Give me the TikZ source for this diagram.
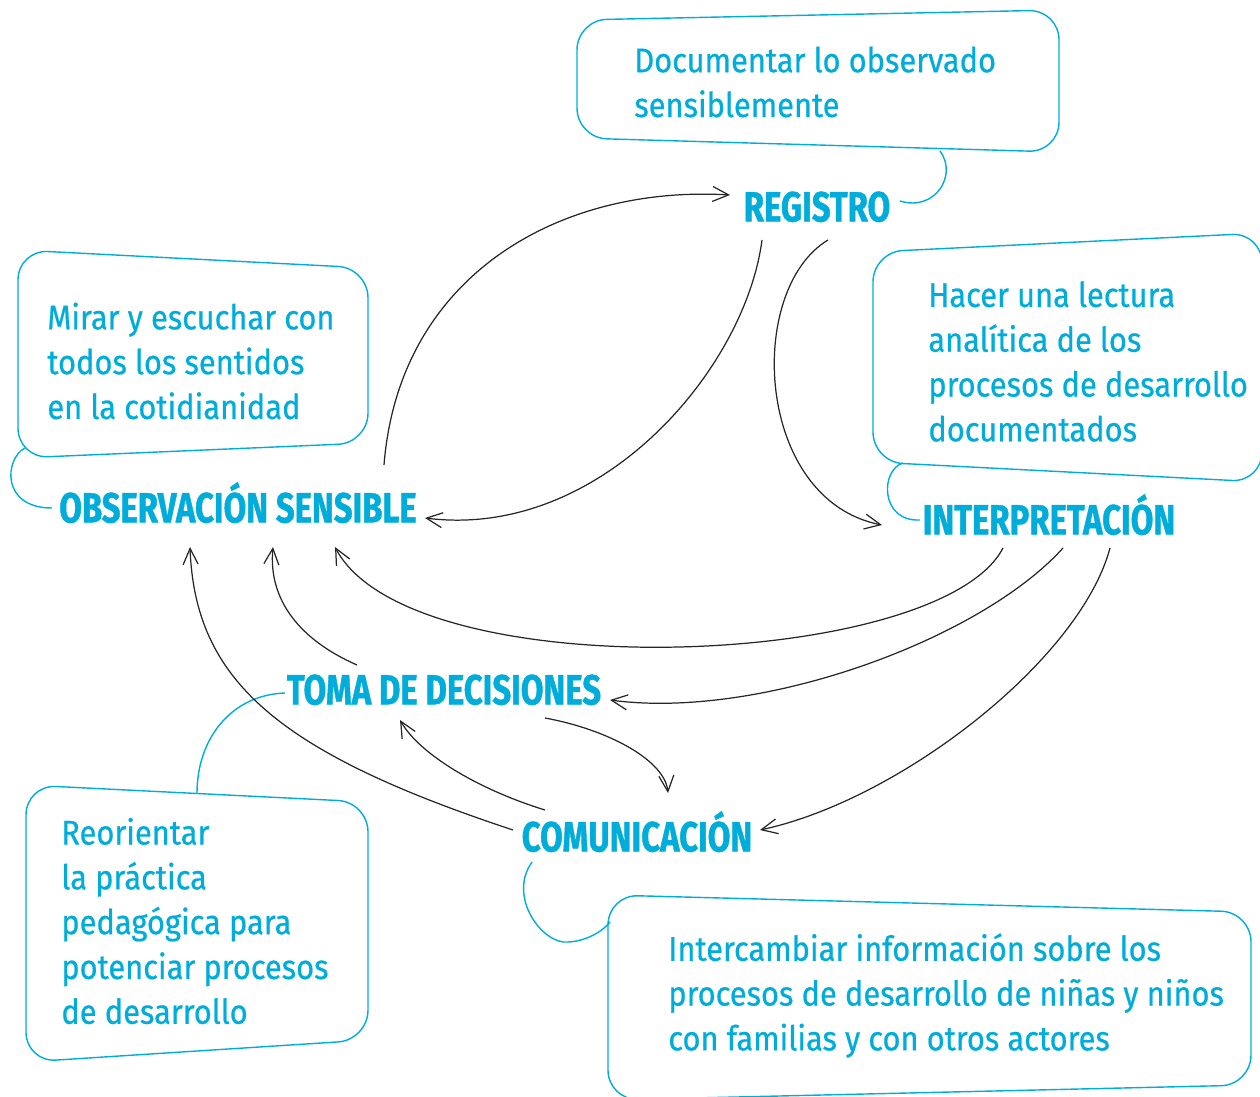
\documentclass[tikz,border=0pt]{standalone}
\usepackage{fontspec}
\setmainfont{Fira Sans}[FakeStretch=0.90, FakeBold=0.6]
\newfontfamily\headfont{Fira Sans}[FakeStretch=0.78, FakeBold=1]
\usepackage{tikz}
\usetikzlibrary{arrows.meta}
\definecolor{celeste}{RGB}{0,173,218}
\tikzset{
    titulo/.style={text=celeste, font=\headfont\bfseries\fontsize{24}{24}\selectfont,
        inner sep=0pt, text height=16.4pt, text depth=0pt},
    texto/.style={text=celeste, font=\fontsize{19.5}{25.5}\selectfont,
        align=left, inner sep=0pt, anchor=west},
    globo/.style={draw=celeste, line width=0.8pt, rounded corners=17pt},
    cola/.style={draw=celeste, line width=0.8pt},
    flecha/.style={draw=black!85, line width=0.7pt,
        -{Straight Barb[length=3.2mm,width=3mm]}}
}

\begin{document}
\begin{tikzpicture}[x=0.02cm, y=-0.02cm]
        \useasboundingbox (0,0) rectangle (1260,1097);
        % globos
        \draw[globo] (577,20) -- (1059,10) -- (1059,152) -- (577,138) -- cycle;
        \draw[globo] (18,250) -- (368,268) -- (368,443) -- (18,458) -- cycle;
        \draw[globo] (873,252) -- (1262,233) -- (1262,482) -- (873,462) -- cycle;
        \draw[globo] (26,785) -- (368,802) -- (368,1040) -- (26,1062) -- cycle;
        \draw[globo] (608,895) -- (1251,912) -- (1251,1085) -- (608,1100) -- cycle;
        \coordinate (colareg) at (940,151);
        \coordinate (colaobs) at (25,448);
        \coordinate (colaint) at (903,463);
        \coordinate (colatoma) at (197,793);
        \coordinate (colacom) at (610,922);
        % textos
        \node[texto] (tdoc) at (634,82) {Documentar lo observado\\sensiblemente};
        \node[texto] (tmir) at (47,361) {Mirar y escuchar con\\todos los sentidos\\en la cotidianidad};
        \node[texto] (thac) at (928,361.5) {Hacer una lectura\\anal\'itica de los\\procesos de desarrollo\\documentados};
        \node[texto] (treo) at (61,921) {Reorientar\\la pr\'actica\\pedag\'ogica para\\potenciar procesos\\de desarrollo};
        \node[texto] (tint) at (668,995.5) {Intercambiar informaci\'on sobre los\\procesos de desarrollo de ni\~nas y ni\~nos\\con familias y con otros actores};
        % etapas
        \node[titulo] (reg) at (817,207) {REGISTRO};
        \node[titulo] (obs) at (238,508) {OBSERVACI\'ON SENSIBLE};
        \node[titulo] (inter) at (1049,520) {INTERPRETACI\'ON};
        \node[titulo] (toma) at (444,690) {TOMA DE DECISIONES};
        \node[titulo] (com) at (637,837) {COMUNICACI\'ON};
        % colas
        \draw[cola] (colareg) .. controls +(18,24) and +(35,11) .. ([shift={(83,-6)}]reg.center);
        \draw[cola] (colaobs) .. controls +(-20,10) and +(-52,0) .. ([shift={(-186,0)}]obs.center);
        \draw[cola] (colaint) .. controls +(-23,7) and +(-40,2) .. ([shift={(-129,0)}]inter.center);
        \draw[cola] (colatoma) .. controls +(0,-53) and +(-55,2) .. ([shift={(-159,3)}]toma.center);
        \draw[cola] ([shift={(-105,25)}]com.center) .. controls +(-25,35) and +(-25,3) .. (568,942)
            .. controls +(20,-1) and +(-6,8) .. (colacom);
        % flechas
        \draw[flecha] ([shift={(146,-43)}]obs.center) .. controls +(15,-190) and +(-170,-10) .. ([shift={(-87,-12)}]reg.center);
        \draw[flecha] ([shift={(-55,33)}]reg.center) .. controls +(-17,130) and +(175,22) .. ([shift={(187,10)}]obs.center);
        \draw[flecha] ([shift={(11,33)}]reg.center) .. controls +(-83,50) and +(-127,-25) .. ([shift={(-167,5)}]inter.center);
        \draw[flecha] ([shift={(-46,28)}]inter.center) .. controls +(-63,122) and +(75,143) .. ([shift={(97,39)}]obs.center);
        \draw[flecha] ([shift={(14,28)}]inter.center) .. controls +(-83,92) and +(150,20) .. ([shift={(166,10)}]toma.center);
        \draw[flecha] ([shift={(61,28)}]inter.center) .. controls +(-30,112) and +(140,-30) .. ([shift={(123,-7)}]com.center);
        \draw[flecha] ([shift={(-87,-25)}]toma.center) .. controls +(-57,-25) and +(-5,53) .. ([shift={(35,39)}]obs.center);
        \draw[flecha] ([shift={(-124,-7)}]com.center) .. controls +(-236,-78) and +(5,133) .. ([shift={(-48,39)}]obs.center);
        \draw[flecha] ([shift={(-92,-27)}]com.center) .. controls +(-65,-20) and +(20,35) .. ([shift={(-44,30)}]toma.center);
        \draw[flecha] ([shift={(101,28)}]toma.center) .. controls +(65,12) and +(-3,-32) .. ([shift={(31,-44)}]com.center);
    \end{tikzpicture}
\end{document}
